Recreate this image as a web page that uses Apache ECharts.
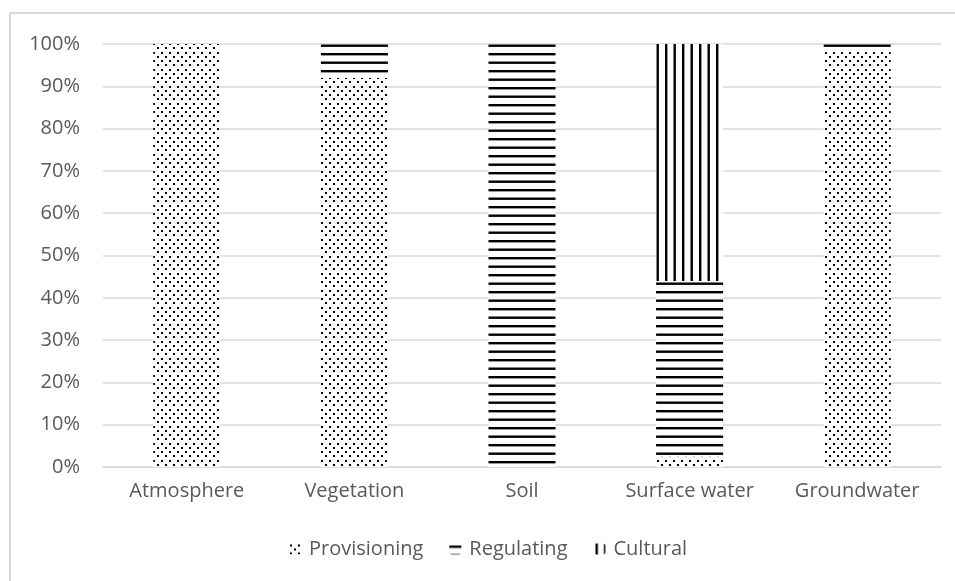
<!DOCTYPE html>
<html><head><meta charset="utf-8">
<script src="https://cdn.jsdelivr.net/npm/echarts@6/dist/echarts.min.js"></script>
<style>html,body{margin:0;padding:0;background:#fff}#c{width:955px;height:581px}</style>
</head><body><div id="c"></div>
<script>
var categories = ['Atmosphere', 'Vegetation', 'Soil', 'Surface water', 'Groundwater'];
var provisioning = [100, 92, 0, 2.5, 98.5];
var regulating = [0, 8, 100, 41.5, 1.5];
var cultural = [0, 0, 0, 56, 0];
var yTicks = [0, 10, 20, 30, 40, 50, 60, 70, 80, 90, 100];

function tile(w, h, draw) {
  var c = document.createElement('canvas');
  c.width = w; c.height = h;
  var g = c.getContext('2d');
  g.fillStyle = '#fff'; g.fillRect(0, 0, w, h);
  g.fillStyle = '#000';
  draw(g);
  return { image: c, repeat: 'repeat' };
}
var dots = tile(8, 17, function (g) {
  g.fillRect(1, 1, 2, 2); g.fillRect(5, 5, 2, 2);
  g.fillRect(1, 9, 2, 2); g.fillRect(5, 13, 2, 2);
});
var hlines = tile(4, 17, function (g) {
  g.fillRect(0, 2, 4, 2.4); g.fillRect(0, 10.5, 4, 2.4);
});
var vlines = tile(17, 4, function (g) {
  g.fillRect(2, 0, 2.4, 4); g.fillRect(10.5, 0, 2.4, 4);
});

var font = '"Open Sans", Lato, sans-serif';
var fs = 20;
var chart = echarts.init(document.getElementById('c'), null, { renderer: 'canvas' });
function ser(name, data, pat) {
  return { name: name, type: 'bar', stack: 'a', data: data, barWidth: '40%',
    itemStyle: { color: pat }, emphasis: { disabled: true } };
}
chart.setOption({
  animation: false,
  graphic: [{ type: 'rect', shape: { x: 10, y: 13, width: 980, height: 620 },
    style: { fill: 'none', stroke: '#d9d9d9', lineWidth: 2 }, silent: true }],
  grid: { left: 103, right: 14, top: 44, bottom: 114 },
  legend: {
    bottom: 17, left: 284, itemGap: 26, itemWidth: 12, itemHeight: 11,
    textStyle: { color: '#595959', fontSize: fs, fontFamily: font, padding: [0, 0, 0, 3] },
    data: ['Provisioning', 'Regulating', 'Cultural']
  },
  xAxis: {
    type: 'category', data: categories,
    axisLine: { lineStyle: { color: '#d9d9d9', width: 1.5 } },
    axisTick: { show: false },
    axisLabel: { color: '#595959', fontSize: fs, fontFamily: font, margin: 14 }
  },
  yAxis: {
    type: 'value', min: yTicks[0], max: yTicks[yTicks.length - 1], interval: 10,
    axisLine: { show: false }, axisTick: { show: false },
    splitLine: { lineStyle: { color: '#d9d9d9', width: 1.5 } },
    axisLabel: { color: '#595959', fontSize: fs, fontFamily: font, margin: 23, formatter: '{value}%' }
  },
  series: [ser('Provisioning', provisioning, dots), ser('Regulating', regulating, hlines), ser('Cultural', cultural, vlines)]
});
</script></body></html>
